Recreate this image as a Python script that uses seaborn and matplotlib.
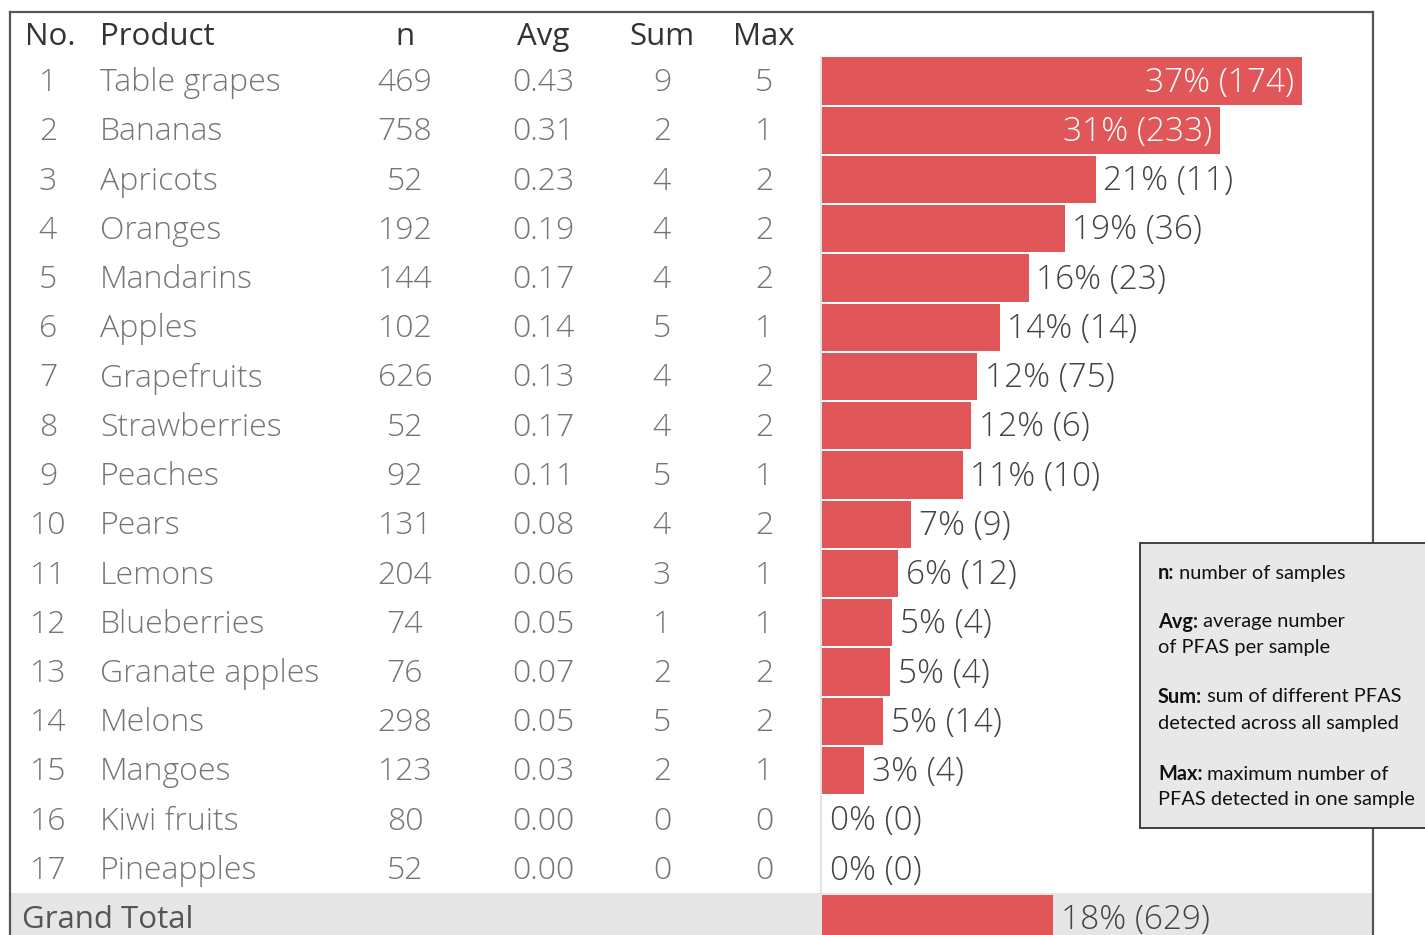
import pandas as pd
import matplotlib.pyplot as plt
import seaborn as sns
from matplotlib.patches import Rectangle

# Table values
products = ["Table grapes", "Bananas", "Apricots", "Oranges", "Mandarins", "Apples",
            "Grapefruits", "Strawberries", "Peaches", "Pears", "Lemons", "Blueberries",
            "Granate apples", "Melons", "Mangoes", "Kiwi fruits", "Pineapples"]
n_samples = [469, 758, 52, 192, 144, 102, 626, 52, 92, 131, 204, 74, 76, 298, 123, 80, 52]
avg_pfas = [0.43, 0.31, 0.23, 0.19, 0.17, 0.14, 0.13, 0.17, 0.11, 0.08, 0.06, 0.05,
            0.07, 0.05, 0.03, 0.00, 0.00]
sum_pfas = [9, 2, 4, 4, 4, 5, 4, 4, 5, 4, 3, 1, 2, 5, 2, 0, 0]
max_pfas = [5, 1, 2, 2, 2, 1, 2, 2, 1, 2, 1, 1, 2, 2, 1, 0, 0]
positives = [174, 233, 11, 36, 23, 14, 75, 6, 10, 9, 12, 4, 4, 14, 4, 0, 0]

legend_lines = [
    ("n:", " number of samples"),
    ("Avg:", " average number"),
    (None, "of PFAS per sample"),
    ("Sum:", " sum of different PFAS"),
    (None, "detected across all sampled"),
    ("Max:", " maximum number of"),
    (None, "PFAS detected in one sample"),
]

df = pd.DataFrame({"Product": products, "n": n_samples, "Avg": avg_pfas,
                   "Sum": sum_pfas, "Max": max_pfas, "Hits": positives})
total = pd.DataFrame({"Product": ["Grand Total"], "n": [df["n"].sum()], "Avg": [None],
                      "Sum": [None], "Max": [None], "Hits": [df["Hits"].sum()]})
bars = pd.concat([df, total], ignore_index=True)
bars["Share"] = bars["Hits"] / bars["n"]

W, H = 1425, 935
fig = plt.figure(figsize=(W / 100, H / 100), dpi=100)
fig.patch.set_facecolor("white")

FONT = "Open Sans"
RED = "#e15759"
ROW0, STEP = 81, 49.25
BAR_L, FRAME_R, SCALE = 822, 1373, 1294
DY = 2  # small nudge so text sits like the reference

# background / text layer in pixel units
bg = fig.add_axes([0, 0, 1, 1])
bg.set_xlim(0, W)
bg.set_ylim(H, 0)
bg.axis("off")

gt_y = ROW0 + STEP * len(df)
bg.add_patch(Rectangle((10, gt_y - 25), FRAME_R - 10, 60, fc="#e6e6e6", ec="none", zorder=0))
bg.plot([10, 10], [12, H], color="#555555", lw=1.6, zorder=3)
bg.plot([10, FRAME_R], [12, 12], color="#555555", lw=1.6, zorder=3)
bg.plot([FRAME_R, FRAME_R], [12, H], color="#555555", lw=1.6, zorder=3)
bg.plot([BAR_L - 1, BAR_L - 1], [57, gt_y - 25], color="#dddddd", lw=1.2, zorder=1)

head_kw = dict(fontsize=22.5, color="#333333", family=FONT, va="center")
bg.text(25, 35 + DY, "No.", ha="left", **head_kw)
bg.text(100, 35 + DY, "Product", ha="left", **head_kw)
cols = [("n", 405), ("Avg", 543), ("Sum", 662), ("Max", 764)]
for name, x in cols:
    bg.text(x, 35 + DY, name, ha="center", **head_kw)

row_kw = dict(fontsize=23, color="#757575", family=FONT, va="center", fontweight="light")
for i, r in df.iterrows():
    y = ROW0 + STEP * i + DY
    bg.text(48, y, str(i + 1), ha="center", **row_kw)
    bg.text(100, y, r["Product"], ha="left", **row_kw)
    bg.text(405, y, str(r["n"]), ha="center", **row_kw)
    bg.text(543, y, f"{r['Avg']:.2f}", ha="center", **row_kw)
    bg.text(662, y, str(r["Sum"]), ha="center", **row_kw)
    bg.text(764, y, str(r["Max"]), ha="center", **row_kw)
bg.text(22, gt_y + DY, "Grand Total", ha="left", fontsize=22.5, color="#555555", family=FONT, va="center")

# bar layer
top_idx = (12 - ROW0) / STEP
bot_idx = (H - ROW0) / STEP
axb = fig.add_axes([BAR_L / W, 0, (FRAME_R - BAR_L) / W, (H - 12) / H])
axb.patch.set_alpha(0)
sns.barplot(data=bars, x="Share", y="Product", order=list(bars["Product"]),
            color=RED, saturation=1, width=0.955, orient="h", ax=axb)
axb.set_xlim(0, (FRAME_R - BAR_L) / SCALE)
axb.set_ylim(bot_idx, top_idx)
axb.axis("off")

for i, r in bars.iterrows():
    label = f"{round(r['Share'] * 100):.0f}% ({r['Hits']})"
    yy = i + DY / STEP
    if r["Share"] > 0.3:
        axb.text(r["Share"] - 0.006, yy, label, ha="right", va="center", color="white",
                 fontsize=24, family=FONT, fontweight="light")
    else:
        axb.text(r["Share"] + 0.006, yy, label, ha="left", va="center", color="#444444",
                 fontsize=24, family=FONT, fontweight="light")

# definitions box
bx = fig.add_axes([0, 0, 1, 1])
bx.set_xlim(0, W)
bx.set_ylim(H, 0)
bx.axis("off")
bx.add_patch(Rectangle((1140, 543), 300, 285, fc="#e8e8e8", ec="#333333", lw=1.3, zorder=5))
line_y = [573, 622, 648, 697, 723, 774, 799]
fig.canvas.draw()
rend = fig.canvas.get_renderer()
inv = bx.transData.inverted()
for (bold, rest), y in zip(legend_lines, line_y):
    x = 1158
    if bold:
        t = bx.text(x, y, bold, ha="left", va="center", fontsize=14.4, family="Lato",
                    fontweight="bold", color="#111111", zorder=6)
        ext = t.get_window_extent(renderer=rend)
        x = inv.transform((ext.x1, ext.y0))[0]
    bx.text(x, y, rest, ha="left", va="center", fontsize=14.4, family="Lato",
            color="#111111", zorder=6)

fig.savefig("out.png", dpi=100)
